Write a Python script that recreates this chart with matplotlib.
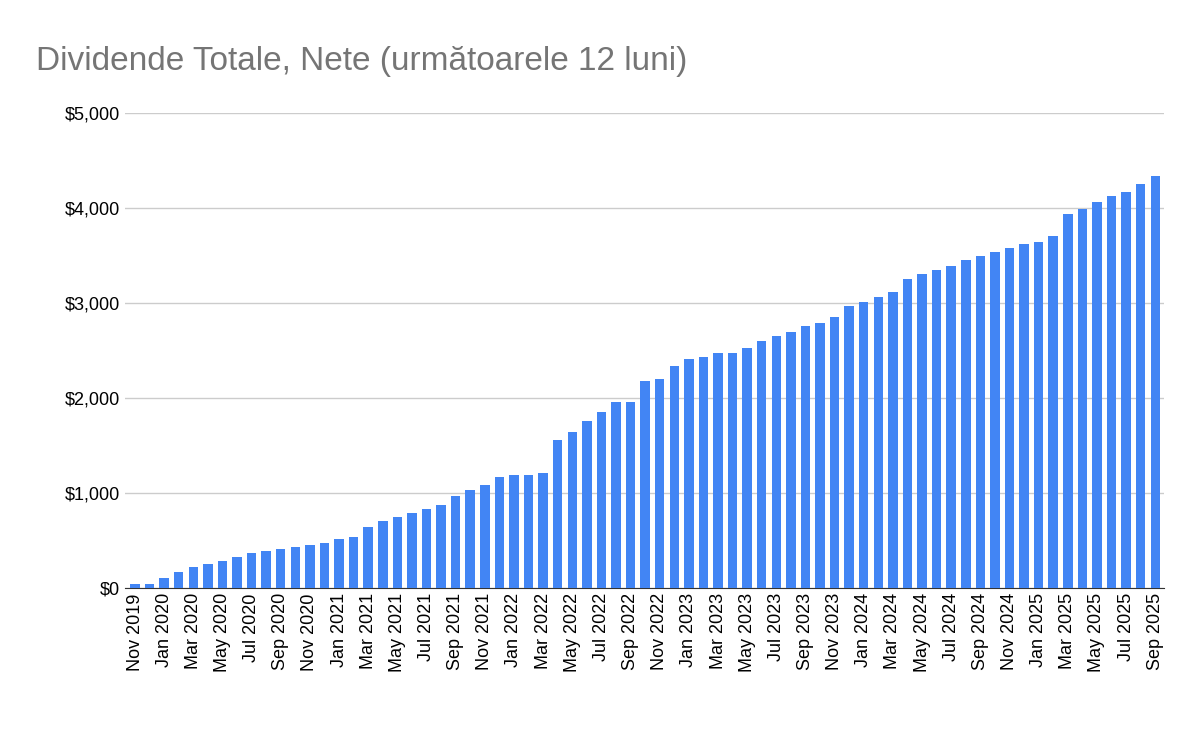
import matplotlib.pyplot as plt
from matplotlib.ticker import FuncFormatter

luni = ["Jan", "Feb", "Mar", "Apr", "May", "Jun", "Jul", "Aug", "Sep", "Oct", "Nov", "Dec"]
labels = ["Nov 2019", "Dec 2019"]
for an in range(2020, 2026):
    for l in luni:
        labels.append(f"{l} {an}")
labels = labels[:71]

valori = [40, 40,
          100, 160, 220, 245, 280, 320, 365, 385, 410, 430, 450, 470,
          515, 535, 640, 705, 745, 790, 830, 870, 965, 1030, 1085, 1170,
          1190, 1190, 1210, 1550, 1640, 1760, 1850, 1950, 1950, 2180, 2200, 2330,
          2410, 2430, 2470, 2470, 2520, 2600, 2645, 2690, 2750, 2790, 2855, 2970,
          3010, 3065, 3110, 3255, 3305, 3345, 3390, 3445, 3490, 3530, 3575, 3620,
          3640, 3700, 3930, 3990, 4060, 4120, 4170, 4250, 4330]

plt.rcParams['font.family'] = ['Liberation Sans', 'DejaVu Sans']
fig, ax = plt.subplots(figsize=(12, 7.42), dpi=100)
fig.subplots_adjust(left=0.104, right=0.97, top=0.848, bottom=0.208)

x = range(len(valori))
ax.bar(x, valori, width=0.65, color="#4285f4", zorder=3)
ax.set_xlim(-0.7, len(valori) - 0.4)
ax.set_ylim(0, 5000)
ax.set_yticks(range(0, 5001, 1000))
ax.yaxis.set_major_formatter(FuncFormatter(lambda v, p: f"${v:,.0f}"))
ax.set_xticks(list(x)[::2])
ax.set_xticklabels(labels[::2], rotation=90, fontsize=13)
ax.tick_params(axis='y', labelsize=13, length=0)
ax.tick_params(axis='x', length=0, pad=4)
ax.grid(axis='y', color='#cccccc', linewidth=1, zorder=0)
for s in ['top', 'right', 'left']:
    ax.spines[s].set_visible(False)
ax.spines['bottom'].set_color('#333333')

fig.text(0.03, 0.905, "Dividende Totale, Nete (următoarele 12 luni)", fontsize=24, color='#757575')

fig.savefig("out.png")
